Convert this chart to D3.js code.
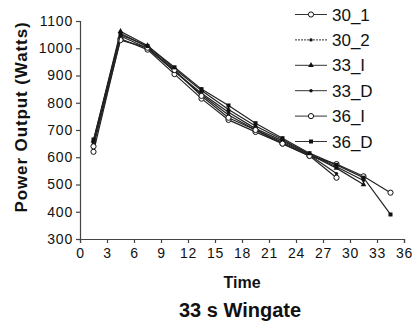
<!DOCTYPE html>
<html>
<head>
<meta charset="utf-8">
<script src="https://cdn.jsdelivr.net/npm/d3@7"></script>
<style>
  body { margin: 0; background: #fff; }
  text { font-family: "Liberation Sans", Arial, sans-serif; fill: #111; }
</style>
</head>
<body>
<svg id="chart" width="412" height="328"></svg>
<script>
// time points (s) — every series is sampled every 3 s
const times = [1.5, 4.5, 7.5, 10.5, 13.5, 16.5, 19.5, 22.5, 25.5, 28.5, 31.5, 34.5];

const s30_1 = [620, 1035, 995, 905, 815, 737, 693, 650, 605, 525];
const s30_2 = [655, 1055, 1005, 915, 830, 755, 700, 655, 608, 540];
const s33_I = [660, 1062, 1010, 925, 845, 775, 715, 665, 610, 560, 500];
const s33_D = [650, 1045, 1000, 915, 835, 765, 705, 660, 612, 565, 515];
const s36_I = [640, 1030, 1002, 920, 825, 745, 700, 650, 605, 575, 530, 470];
const s36_D = [665, 1050, 1008, 930, 850, 790, 725, 670, 615, 572, 525, 390];

const seriesNames = ['30_1', '30_2', '33_I', '33_D', '36_I', '36_D'];
const seriesValues = [s30_1, s30_2, s33_I, s33_D, s36_I, s36_D];
const markers = ['openCircle', 'dot', 'triangle', 'dot', 'openCircle', 'square'];

const xTicks = [0, 3, 6, 9, 12, 15, 18, 21, 24, 27, 30, 33, 36];
const yTicks = [300, 400, 500, 600, 700, 800, 900, 1000, 1100];

const svg = d3.select('#chart');

const x = d3.scaleLinear().domain([0, 36]).range([80, 404]);
const y = d3.scaleLinear().domain([300, 1100]).range([239, 21]);

// axes
const yAxis = svg.append('g')
  .attr('transform', 'translate(80,0)')
  .call(d3.axisLeft(y).tickValues(yTicks).tickFormat(d3.format('d')).tickSize(4).tickPadding(3));
const xAxis = svg.append('g')
  .attr('transform', 'translate(0,239)')
  .call(d3.axisBottom(x).tickValues(xTicks).tickFormat(d3.format('d')).tickSize(4).tickPadding(5));

[xAxis, yAxis].forEach(g => {
  g.select('.domain').attr('stroke', '#444').attr('stroke-width', 1.2);
  g.selectAll('.tick line').attr('stroke', '#444').attr('stroke-width', 1.2);
  g.selectAll('.tick text')
    .attr('fill', '#111')
    .style('font-family', '"Liberation Sans", Arial, sans-serif')
    .style('font-size', '14px')
    .style('letter-spacing', '0.8px');
});

// series lines
const line = d3.line()
  .x((d, i) => x(times[i]))
  .y(d => y(d));

function drawMarker(g, type, cx, cy) {
  if (type === 'openCircle') {
    g.append('circle').attr('cx', cx).attr('cy', cy).attr('r', 2.6)
      .attr('fill', '#fff').attr('stroke', '#111').attr('stroke-width', 1);
  } else if (type === 'dot') {
    g.append('circle').attr('cx', cx).attr('cy', cy).attr('r', 1.7)
      .attr('fill', '#111');
  } else if (type === 'triangle') {
    g.append('path')
      .attr('d', d3.symbol(d3.symbolTriangle, 14)())
      .attr('transform', `translate(${cx},${cy})`)
      .attr('fill', '#111');
  } else if (type === 'square') {
    g.append('rect').attr('x', cx - 2).attr('y', cy - 2)
      .attr('width', 4).attr('height', 4).attr('fill', '#111');
  }
}

seriesValues.forEach((vals, k) => {
  const g = svg.append('g');
  g.append('path')
    .datum(vals)
    .attr('d', line)
    .attr('fill', 'none')
    .attr('stroke', '#222')
    .attr('stroke-width', 1.2);
  vals.forEach((v, i) => drawMarker(g, markers[k], x(times[i]), y(v)));
});

// legend
const legend = svg.append('g');
seriesNames.forEach((name, k) => {
  const ly = 14.5 + k * 25.4;
  legend.append('line')
    .attr('x1', 295).attr('x2', 327).attr('y1', ly).attr('y2', ly)
    .attr('stroke', '#333').attr('stroke-width', 1)
    .attr('stroke-dasharray', k === 1 ? '2,1' : null);
  drawMarker(legend, markers[k], 311, ly);
  legend.append('text')
    .attr('x', 332).attr('y', ly + 6)
    .style('font-size', '17px')
    .text(name);
});

// axis titles
svg.append('text')
  .attr('transform', 'translate(27,117) rotate(-90)')
  .attr('text-anchor', 'middle')
  .style('font-size', '17px')
  .style('font-weight', 'bold')
  .style('letter-spacing', '0.9px')
  .text('Power Output (Watts)');

svg.append('text')
  .attr('x', 242).attr('y', 288)
  .attr('text-anchor', 'middle')
  .style('font-size', '16px')
  .style('font-weight', 'bold')
  .text('Time');

svg.append('text')
  .attr('x', 240).attr('y', 317)
  .attr('text-anchor', 'middle')
  .style('font-size', '20px')
  .style('font-weight', 'bold')
  .text('33 s Wingate');
</script>
</body>
</html>
